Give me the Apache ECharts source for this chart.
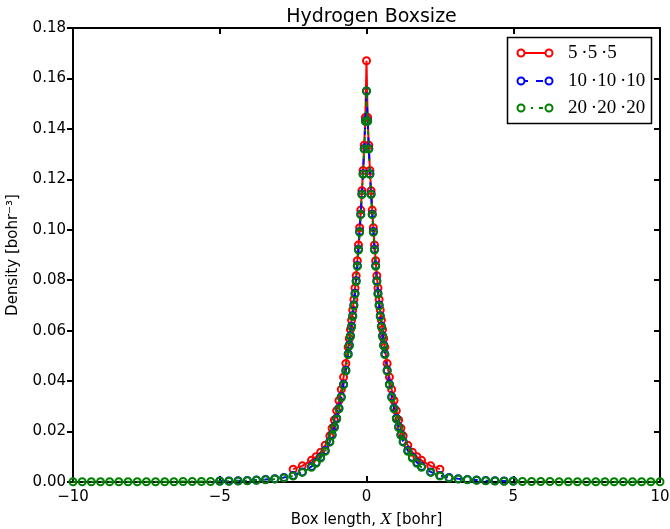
<!DOCTYPE html>
<html>
<head>
<meta charset="utf-8">
<script src="https://cdn.jsdelivr.net/npm/echarts@6/dist/echarts.min.js"></script>
<style>
  html, body { margin: 0; padding: 0; background: #ffffff; }
  #chart { width: 670px; height: 529px; }
</style>
</head>
<body>
<div id="chart"></div>
<script>
// Grid positions along the line through the nucleus (x >= 0, bohr).
// The profiles are symmetric, so the negative half is mirrored below.
const xHalf = [
  0, 0.039, 0.078, 0.117, 0.156, 0.195, 0.234, 0.273, 0.3125, 0.352,
  0.391, 0.430, 0.469, 0.508, 0.547, 0.586, 0.625, 0.703, 0.781, 0.859,
  0.9375, 1.016, 1.094, 1.172, 1.25, 1.406, 1.5625, 1.719, 1.875, 2.1875,
  2.5, 2.8125, 3.125, 3.4375, 3.75, 4.0625, 4.375, 4.6875, 5.0, 5.3125,
  5.625, 5.9375, 6.25, 6.5625, 6.875, 7.1875, 7.5, 7.8125, 8.125, 8.4375,
  8.75, 9.0625, 9.375, 9.6875, 10
];

// Density [bohr^-3] for box 5·5·5 (grid up to 2.5 bohr)
const densityBox5 = [
  0.167, 0.1445, 0.1335, 0.1235, 0.1155, 0.1078, 0.1008, 0.0940, 0.0877, 0.0818,
  0.0769, 0.0724, 0.0682, 0.0642, 0.0605, 0.0569, 0.0535, 0.0470, 0.0416, 0.0367,
  0.0323, 0.0283, 0.0246, 0.0213, 0.0183, 0.0146, 0.0118, 0.0100, 0.0086, 0.0064,
  0.0051
];

// Density for box 10·10·10 (grid up to 5 bohr)
const densityBox10 = [
  0.155, 0.1432, 0.1322, 0.1222, 0.1142, 0.1062, 0.0993, 0.0923, 0.0858, 0.0798,
  0.0748, 0.0702, 0.0659, 0.0618, 0.0580, 0.0543, 0.0508, 0.0443, 0.0388, 0.0338,
  0.0293, 0.0253, 0.0219, 0.0188, 0.0161, 0.0125, 0.0098, 0.0077, 0.0061, 0.0040,
  0.0026, 0.0018, 0.0013, 0.0010, 0.0008, 0.0006, 0.0005, 0.0004, 0.0004
];

// Density for box 20·20·20 (grid up to 10 bohr)
const densityBox20 = [
  0.155, 0.143, 0.132, 0.122, 0.114, 0.106, 0.099, 0.092, 0.0855, 0.0795,
  0.0745, 0.0699, 0.0656, 0.0615, 0.0577, 0.0540, 0.0505, 0.0440, 0.0385, 0.0335,
  0.0290, 0.0250, 0.0216, 0.0185, 0.0158, 0.0122, 0.0095, 0.0074, 0.0058, 0.0038,
  0.0024, 0.0016, 0.0012, 0.0009, 0.0007, 0.0005, 0.0004, 0.0003, 0.0003, 0.0002,
  0.0002, 0.0002, 0.0002, 0.0001, 0.0001, 0.0001, 0.0001, 0.0001, 0.0001, 0.0001,
  0.0001, 0.0001, 0.0001, 0.0001, 0.0001
];

const seriesNames = ['5\u2009\u00b75\u2009\u00b75', '10\u2009\u00b710\u2009\u00b710', '20\u2009\u00b720\u2009\u00b720'];
const seriesColors = ['#ff0000', '#0000ff', '#008000'];
const seriesDash = ['solid', [7, 8], [4, 6, 2, 6]];

const xMin = -10, xMax = 10, xStep = 5;
const yMin = 0, yMax = 0.18, yStep = 0.02;

// Build a full symmetric profile from the x >= 0 half.
function mirrored(values) {
  const pts = [];
  for (let i = values.length - 1; i > 0; i--) pts.push([-xHalf[i], values[i]]);
  for (let i = 0; i < values.length; i++) pts.push([xHalf[i], values[i]]);
  return pts;
}

const profiles = [densityBox5, densityBox10, densityBox20].map(mirrored);

const chart = echarts.init(document.getElementById('chart'), null, { renderer: 'canvas' });

const FONT = 'DejaVu Sans';
const plot = { left: 73, right: 10, top: 28, bottom: 47 };

const spine = { show: true, onZero: false, lineStyle: { color: '#000', width: 2 } };
const tickIn = { show: true, inside: true, length: 6, lineStyle: { color: '#000', width: 2 } };
const tickOut = { show: true, inside: false, length: 6, lineStyle: { color: '#000', width: 2 } };

const series = profiles.map((data, i) => ({
  type: 'line',
  name: seriesNames[i],
  data: data,
  xAxisIndex: 0,
  yAxisIndex: 0,
  symbol: 'circle',
  symbolSize: 7,
  showAllSymbol: true,
  clip: false,
  z: 2 + i,
  lineStyle: { color: seriesColors[i], width: 2, type: seriesDash[i] },
  itemStyle: { color: 'rgba(0,0,0,0)', borderColor: seriesColors[i], borderWidth: 2 },
  emphasis: { disabled: true },
  silent: true
}));

// Legend box drawn as graphics: line sample with a marker at each end
const legendBox = { x: 507.5, y: 37.5, w: 144, h: 86 };
const legendRows = [53, 81, 108];
const legendElements = [{
  type: 'rect',
  shape: { x: legendBox.x, y: legendBox.y, width: legendBox.w, height: legendBox.h },
  style: { fill: '#ffffff', stroke: '#000000', lineWidth: 1.5 },
  z: 100
}];
legendRows.forEach((y, i) => {
  legendElements.push({
    type: 'line',
    shape: { x1: 521, y1: y, x2: 549, y2: y },
    style: { stroke: seriesColors[i], lineWidth: 2, lineDash: Array.isArray(seriesDash[i]) ? seriesDash[i] : null },
    z: 101
  });
  [521, 549].forEach(cx => legendElements.push({
    type: 'circle',
    shape: { cx: cx, cy: y, r: 3.5 },
    style: { fill: '#ffffff', stroke: seriesColors[i], lineWidth: 2 },
    z: 102
  }));
  legendElements.push({
    type: 'text',
    x: 568, y: y,
    style: {
      text: seriesNames[i], fontSize: 19, fontFamily: 'Liberation Serif',
      fill: '#000', verticalAlign: 'middle', align: 'left'
    },
    z: 102
  });
});

chart.setOption({
  animation: false,
  backgroundColor: '#ffffff',
  title: {
    text: 'Hydrogen Boxsize',
    left: 366.5,
    top: 3,
    textAlign: 'center',
    textStyle: { fontFamily: FONT, fontSize: 19, fontWeight: 'normal', color: '#000' }
  },
  grid: {
    left: plot.left, right: plot.right, top: plot.top, bottom: plot.bottom,
    containLabel: false, outerBoundsMode: 'none'
  },
  xAxis: [{
    type: 'value', position: 'bottom',
    min: xMin, max: xMax, interval: xStep,
    axisLine: spine, axisTick: tickIn, splitLine: { show: false },
    axisLabel: {
      color: '#000', fontFamily: FONT, fontSize: 15, margin: 8,
      formatter: v => (v < 0 ? '\u2212' : '') + Math.abs(v)
    },
    name: '{a|Box length, }{i|X}{a| [bohr]}',
    nameLocation: 'middle', nameGap: 31,
    nameTextStyle: {
      rich: {
        a: { fontFamily: FONT, fontSize: 15, color: '#000' },
        i: { fontFamily: 'DejaVu Serif', fontStyle: 'italic', fontSize: 15, color: '#000' }
      }
    }
  }, {
    type: 'value', position: 'top',
    min: xMin, max: xMax, interval: xStep,
    axisLine: spine, axisTick: tickIn, axisLabel: { show: false }, splitLine: { show: false }
  }],
  yAxis: [{
    type: 'value', position: 'left',
    min: yMin, max: yMax, interval: yStep,
    axisLine: spine, axisTick: tickOut, splitLine: { show: false },
    axisLabel: {
      color: '#000', fontFamily: FONT, fontSize: 15, margin: 7,
      formatter: v => v.toFixed(2)
    },
    name: 'Density [bohr\u207b\u00b3]',
    nameLocation: 'middle', nameGap: 52, nameRotate: 90,
    nameTextStyle: { fontFamily: FONT, fontSize: 15, color: '#000' }
  }, {
    type: 'value', position: 'right',
    min: yMin, max: yMax, interval: yStep,
    axisLine: spine, axisTick: tickIn, axisLabel: { show: false }, splitLine: { show: false }
  }],
  series: series,
  graphic: legendElements
});
</script>
</body>
</html>
